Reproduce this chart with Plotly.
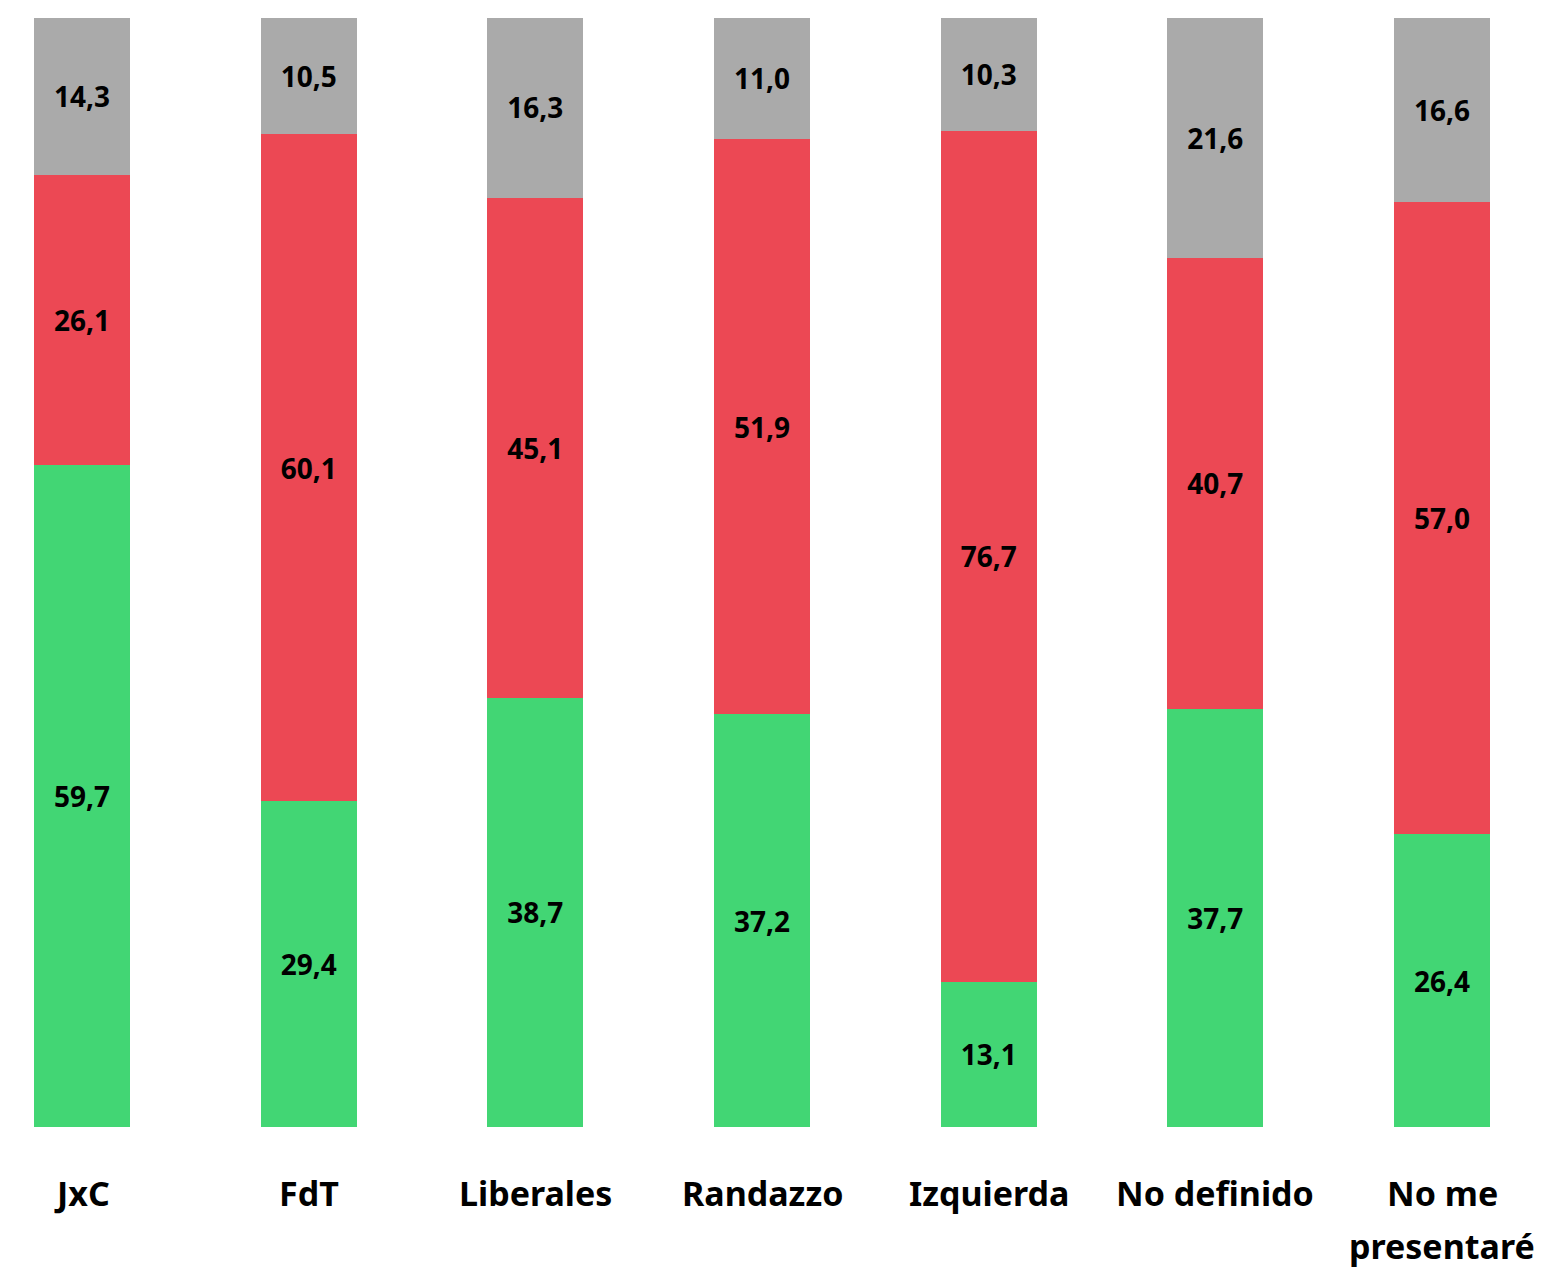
import plotly.graph_objects as go

categories = ["JxC", "FdT", "Liberales", "Randazzo", "Izquierda", "No definido", "No me presentaré"]
label_lines = [["JxC"], ["FdT"], ["Liberales"], ["Randazzo"], ["Izquierda"], ["No definido"], ["No me", "presentaré"]]
green_vals = [59.7, 29.4, 38.7, 37.2, 13.1, 37.7, 26.4]
red_vals = [26.1, 60.1, 45.1, 51.9, 76.7, 40.7, 57.0]
gray_vals = [14.3, 10.5, 16.3, 11.0, 10.3, 21.6, 16.6]

FONT = "Noto Sans"
x_idx = list(range(len(categories)))

def fmt(v):
    return f"{v:.1f}".replace(".", ",")

fig = go.Figure()
for vals, color in [(green_vals, "#42D674"), (red_vals, "#EC4854"), (gray_vals, "#AAAAAA")]:
    fig.add_trace(go.Bar(
        x=x_idx, y=vals, width=0.4235,
        marker=dict(color=color, line=dict(width=0)),
        text=[fmt(v) for v in vals],
        textposition="inside", insidetextanchor="middle", textangle=0,
        textfont=dict(family=FONT, size=28, color="black", weight="bold"),
        constraintext="none",
        hoverinfo="skip",
    ))

plot_h = 1109
for i, lines in enumerate(label_lines):
    for j, line in enumerate(lines):
        fig.add_annotation(
            x=i, xref="x", y=(-66 - 53 * j) / plot_h, yref="paper",
            text=line, showarrow=False,
            font=dict(family=FONT, size=34, color="black", weight="bold"),
            xanchor="center", yanchor="middle",
        )

fig.update_layout(
    barmode="stack",
    width=1535, height=1262,
    margin=dict(l=0, r=0, t=10, b=143, pad=0),
    paper_bgcolor="white", plot_bgcolor="white",
    showlegend=False,
    xaxis=dict(range=[-0.3265, 6.4456], showticklabels=False, showgrid=False, zeroline=False, showline=False),
    yaxis=dict(range=[0, 100], visible=False, showgrid=False, zeroline=False),
)

fig.write_html("out.html")
